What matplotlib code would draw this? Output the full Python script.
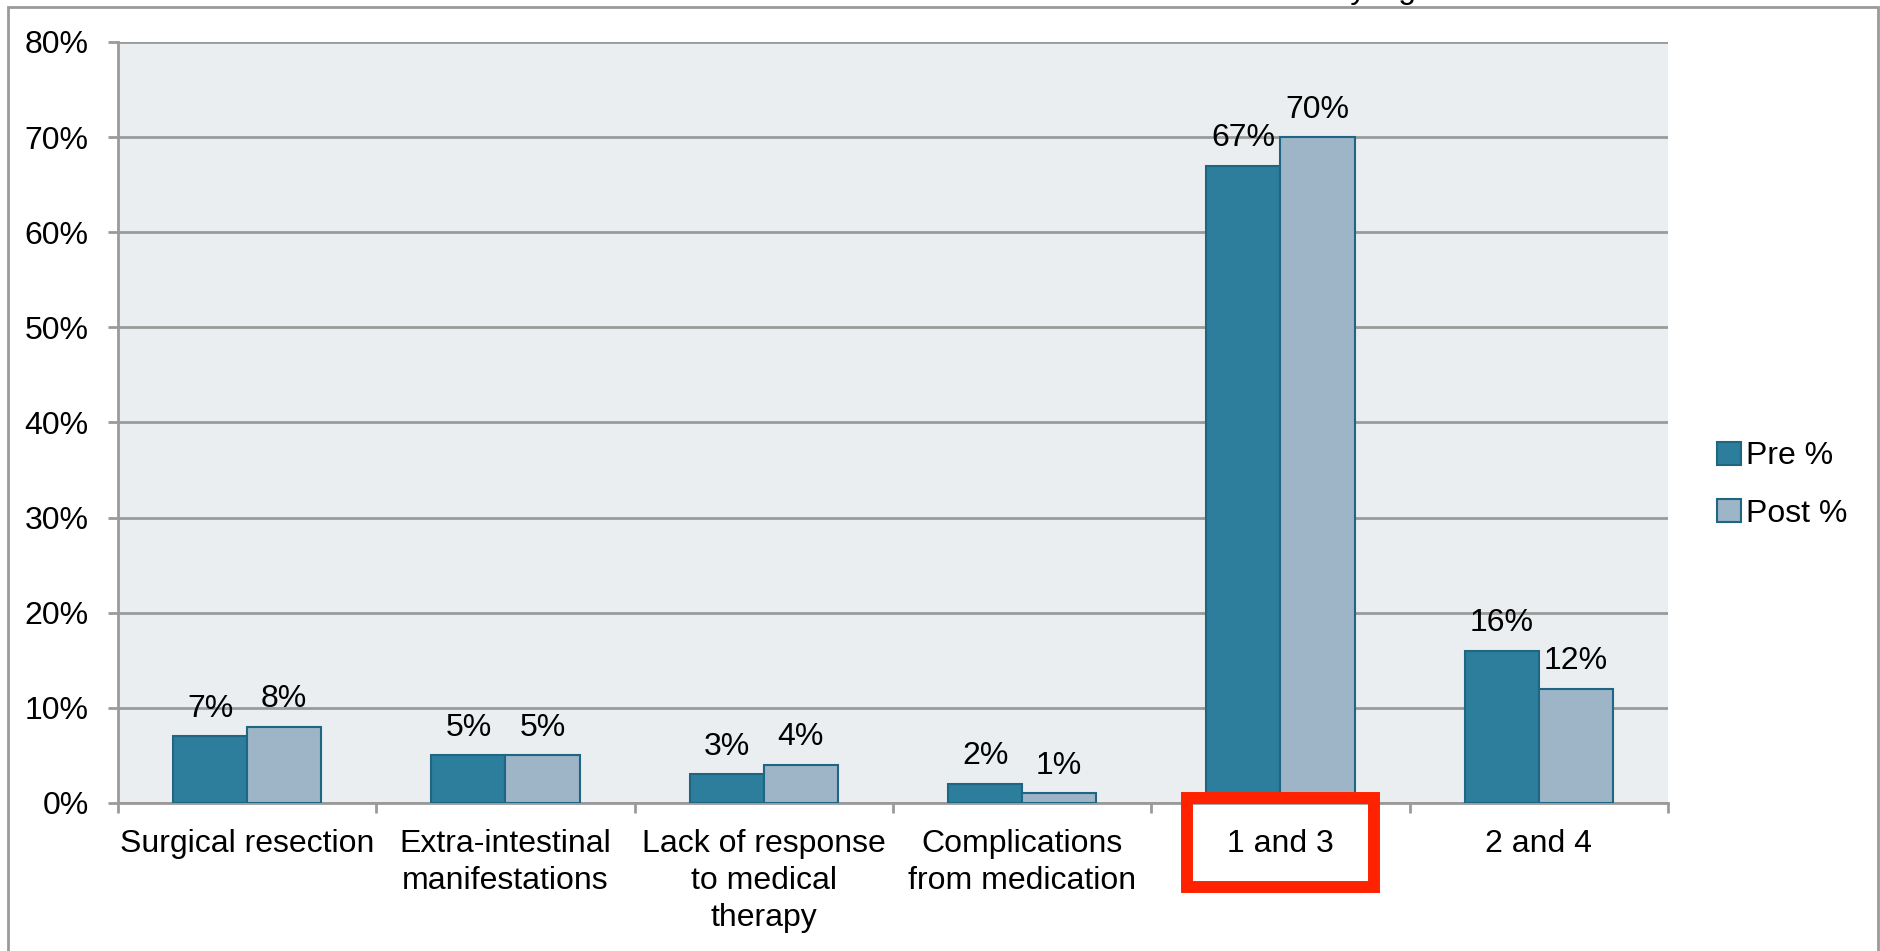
import matplotlib.pyplot as plt
import numpy as np
from matplotlib import patches, transforms
from matplotlib.ticker import FuncFormatter

plt.rcParams['font.family'] = ['Liberation Sans', 'DejaVu Sans']

categories = ["Surgical resection", "Extra-intestinal\nmanifestations",
              "Lack of response\nto medical\ntherapy", "Complications\nfrom medication",
              "1 and 3", "2 and 4"]
pre = [7, 5, 3, 2, 67, 16]
post = [8, 5, 4, 1, 70, 12]
series_names = ["Pre %", "Post %"]
highlight = "1 and 3"

dark = "#2c7e9c"
light = "#9db5c7"
edge = "#1f6683"
grid_c = "#9a9a9a"
fs = 23

fig = plt.figure(figsize=(18.81, 9.51), dpi=100)
W, H = 1881, 951
ax = fig.add_axes([118 / W, 1 - 803 / H, 1550 / W, 761 / H])
ax.set_facecolor("#eaeef1")

x = np.arange(len(categories))
bw = 0.287
b1 = ax.bar(x - bw / 2, pre, bw, color=dark, edgecolor=edge, linewidth=1.5,
            label=series_names[0], zorder=3)
b2 = ax.bar(x + bw / 2, post, bw, color=light, edgecolor=edge, linewidth=1.5,
            label=series_names[1], zorder=3)

for bars, vals in ((b1, pre), (b2, post)):
    for r, v in zip(bars, vals):
        ax.annotate(f"{v}%", (r.get_x() + r.get_width() / 2, v),
                    xytext=(0, 9), textcoords="offset points",
                    ha="center", va="bottom", fontsize=fs, zorder=4)

ax.set_xlim(-0.5, len(categories) - 0.5)
ax.set_ylim(0, 80)
ax.set_yticks(np.arange(0, 81, 10))
ax.yaxis.set_major_formatter(FuncFormatter(lambda v, p: f"{v:.0f}%"))
ax.yaxis.grid(True, color=grid_c, linewidth=2, zorder=1)
ax.set_axisbelow(True)

ax.set_xticks(x)
ax.set_xticklabels(categories, fontsize=fs, linespacing=1.3)
ax.set_xticks(np.arange(-0.5, len(categories), 1), minor=True)
ax.tick_params(axis="x", which="major", length=0, pad=19)
ax.tick_params(axis="x", which="minor", length=7, width=2, color=grid_c, direction="out")
ax.tick_params(axis="y", length=7, width=2, color=grid_c, pad=14, labelsize=fs)

for s in ("top", "right"):
    ax.spines[s].set_visible(False)
for s in ("left", "bottom"):
    ax.spines[s].set_color(grid_c)
    ax.spines[s].set_linewidth(2)

ax.legend(loc="center left", bbox_to_anchor=(1717 / W, 1 - 485 / H),
          bbox_transform=fig.transFigure, frameon=False, fontsize=fs,
          handlelength=0.75, handleheight=0.75, handletextpad=0.15,
          labelspacing=0.85, borderaxespad=0, borderpad=0)

# red box around the highlighted category label
ci = categories.index(highlight)
trans = transforms.blended_transform_factory(ax.transData, ax.transAxes)
ax.add_patch(patches.Rectangle((ci - 0.362, -0.110), 0.724, 0.117, transform=trans,
                               fill=False, edgecolor="#ff2200", linewidth=8.6,
                               clip_on=False, zorder=5))

# outer chart frame
fig.add_artist(patches.Rectangle((8 / W, -0.05), 1870 / W, 1 - 7 / H + 0.05,
                                 transform=fig.transFigure, fill=False,
                                 edgecolor=grid_c, linewidth=2))
fig.text(1335 / W, 1 + 2 / H, "Not statistically significant", ha="center",
         va="baseline", fontsize=fs)

fig.savefig("out.png", dpi=100, facecolor="white")
